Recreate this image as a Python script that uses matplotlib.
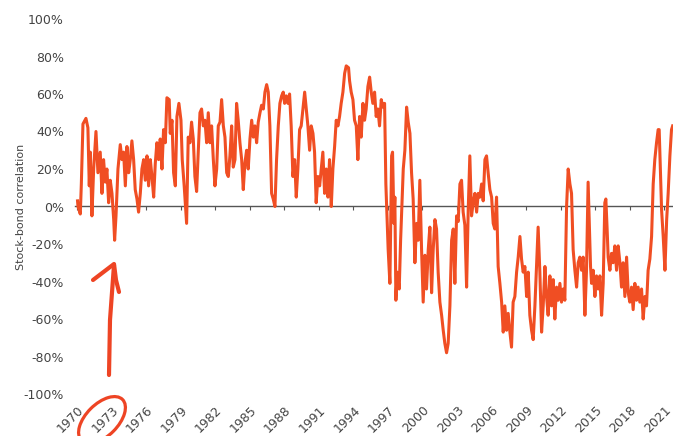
import matplotlib
matplotlib.use("Agg")
import matplotlib.pyplot as plt
from matplotlib.lines import Line2D
from matplotlib.patches import Ellipse
from matplotlib.transforms import IdentityTransform

# rolling stock-bond correlation (%)
years = [
    1970.05, 1970.09, 1970.29, 1970.38, 1970.52, 1970.78, 1970.95, 1971.07, 1971.16, 1971.30,
    1971.45, 1971.65, 1971.82, 1972.02, 1972.17, 1972.31, 1972.46, 1972.60, 1972.75, 1972.89,
    1973.04, 1973.19, 1973.27, 1973.39, 1973.56, 1973.76, 1973.91, 1974.05, 1974.20, 1974.34,
    1974.49, 1974.63, 1974.77, 1974.92, 1975.06, 1975.21, 1975.35, 1975.50, 1975.64, 1975.79,
    1975.93, 1976.08, 1976.22, 1976.37, 1976.51, 1976.66, 1976.80, 1976.94, 1977.09, 1977.23,
    1977.38, 1977.52, 1977.67, 1977.81, 1978.01, 1978.10, 1978.25, 1978.39, 1978.54, 1978.68,
    1978.85, 1979.03, 1979.14, 1979.31, 1979.52, 1979.66, 1979.81, 1979.95, 1980.10, 1980.24,
    1980.39, 1980.53, 1980.68, 1980.82, 1980.97, 1981.11, 1981.26, 1981.40, 1981.55, 1981.69,
    1981.84, 1981.98, 1982.13, 1982.27, 1982.42, 1982.56, 1982.71, 1982.85, 1983.00, 1983.14,
    1983.28, 1983.43, 1983.57, 1983.72, 1983.86, 1984.00, 1984.15, 1984.30, 1984.44, 1984.58,
    1984.73, 1984.87, 1985.02, 1985.17, 1985.31, 1985.45, 1985.60, 1985.74, 1985.89, 1986.03,
    1986.18, 1986.32, 1986.47, 1986.61, 1986.75, 1986.90, 1987.04, 1987.19, 1987.33, 1987.48,
    1987.62, 1987.77, 1987.91, 1988.03, 1988.17, 1988.32, 1988.46, 1988.60, 1988.75, 1988.90,
    1989.04, 1989.18, 1989.33, 1989.47, 1989.62, 1989.77, 1989.91, 1990.05, 1990.20, 1990.34,
    1990.49, 1990.63, 1990.77, 1990.92, 1991.07, 1991.21, 1991.35, 1991.50, 1991.64, 1991.79,
    1991.93, 1992.08, 1992.22, 1992.37, 1992.51, 1992.66, 1992.80, 1992.94, 1993.09, 1993.24,
    1993.38, 1993.58, 1993.67, 1993.81, 1993.96, 1994.10, 1994.25, 1994.39, 1994.54, 1994.68,
    1994.83, 1994.97, 1995.11, 1995.26, 1995.41, 1995.55, 1995.69, 1995.84, 1995.98, 1996.13,
    1996.27, 1996.42, 1996.56, 1996.71, 1996.82, 1997.02, 1997.17, 1997.32, 1997.40, 1997.52,
    1997.60, 1997.69, 1997.80, 1997.98, 1998.10, 1998.21, 1998.33, 1998.47, 1998.62, 1998.76,
    1998.91, 1999.05, 1999.19, 1999.34, 1999.49, 1999.63, 1999.77, 1999.92, 2000.06, 2000.21,
    2000.35, 2000.50, 2000.64, 2000.79, 2000.93, 2001.08, 2001.22, 2001.36, 2001.51, 2001.66,
    2001.80, 2001.94, 2002.09, 2002.23, 2002.38, 2002.53, 2002.67, 2002.81, 2002.96, 2003.10,
    2003.25, 2003.39, 2003.53, 2003.68, 2003.83, 2003.97, 2004.11, 2004.26, 2004.40, 2004.55,
    2004.70, 2004.84, 2004.98, 2005.13, 2005.27, 2005.42, 2005.56, 2005.70, 2005.85, 2006.00,
    2006.14, 2006.28, 2006.43, 2006.57, 2006.72, 2006.87, 2007.01, 2007.15, 2007.30, 2007.44,
    2007.59, 2007.73, 2007.87, 2008.02, 2008.17, 2008.31, 2008.46, 2008.60, 2008.74, 2008.89,
    2009.04, 2009.18, 2009.32, 2009.47, 2009.61, 2009.76, 2009.90, 2010.04, 2010.19, 2010.34,
    2010.48, 2010.63, 2010.77, 2010.91, 2011.06, 2011.20, 2011.35, 2011.49, 2011.64, 2011.78,
    2011.93, 2012.07, 2012.21, 2012.36, 2012.51, 2012.65, 2012.80, 2012.94, 2013.08, 2013.23,
    2013.38, 2013.52, 2013.66, 2013.81, 2013.95, 2014.10, 2014.24, 2014.38, 2014.47, 2014.59,
    2014.68, 2014.82, 2014.97, 2015.11, 2015.25, 2015.40, 2015.55, 2015.69, 2015.83, 2015.92,
    2016.03, 2016.12, 2016.27, 2016.41, 2016.55, 2016.70, 2016.85, 2016.99, 2017.14, 2017.28,
    2017.42, 2017.57, 2017.72, 2017.86, 2018.00, 2018.15, 2018.29, 2018.44, 2018.58, 2018.72,
    2018.87, 2019.02, 2019.16, 2019.31, 2019.45, 2019.59, 2019.74, 2019.89, 2020.03, 2020.17,
    2020.32, 2020.46, 2020.55, 2020.67, 2020.76, 2020.90, 2021.05, 2021.20, 2021.33, 2021.48,
    2021.62, 2021.72,
]
corr = [
    3, 0, -4, 12, 44, 47, 42, 11, 29, -5,
    20, 40, 18, 29, 7, 25, 13, 20, 2, 14,
    7, -7, -18, -5, 20, 33, 25, 29, 11, 32,
    18, 25, 35, 25, 9, 4, -3, 7, 20, 25,
    14, 27, 11, 25, 16, 5, 23, 34, 25, 36,
    20, 41, 34, 58, 57, 39, 46, 18, 11, 48,
    55, 46, 25, 11, -9, 37, 34, 45, 36, 16,
    8, 29, 50, 52, 43, 46, 34, 50, 34, 43,
    25, 11, 20, 43, 45, 57, 43, 37, 18, 16,
    27, 43, 21, 25, 55, 46, 34, 25, 9, 23,
    30, 20, 36, 46, 37, 43, 34, 45, 50, 54,
    52, 61, 65, 61, 43, 7, 4, 0, 25, 43,
    55, 59, 61, 55, 59, 55, 60, 43, 16, 25,
    5, 20, 41, 43, 52, 61, 52, 43, 30, 43,
    39, 29, 2, 16, 11, 20, 29, 7, 20, 5,
    25, 0, 20, 32, 46, 43, 48, 55, 61, 71,
    75, 74, 67, 61, 57, 46, 43, 25, 48, 37,
    55, 46, 52, 64, 69, 61, 55, 61, 48, 52,
    43, 57, 53, 55, 12, -23, -41, 27, 29, -9,
    5, -50, -35, -44, -18, 0, 20, 30, 53, 45,
    39, 18, 4, -30, -9, -18, 14, -23, -51, -26,
    -44, -23, -11, -46, -23, -7, -12, -35, -51, -58,
    -66, -73, -78, -73, -53, -18, -12, -41, -5, -8,
    12, 14, -3, -10, -43, -2, 27, -5, 2, 7,
    -3, 7, 5, 12, 3, 25, 27, 18, 9, 5,
    -9, -12, 5, -32, -41, -51, -67, -53, -66, -57,
    -67, -75, -51, -48, -35, -27, -16, -28, -35, -32,
    -48, -35, -58, -66, -71, -53, -32, -11, -35, -67,
    -53, -32, -48, -58, -37, -53, -39, -60, -43, -50,
    -41, -51, -44, -50, 0, 20, 12, 7, -23, -34,
    -43, -30, -27, -34, -27, -58, -34, 13, -7, -32,
    -41, -34, -48, -37, -44, -37, -58, -41, 2, 4,
    -12, -27, -34, -25, -30, -21, -34, -21, -30, -43,
    -30, -48, -27, -46, -51, -43, -55, -41, -50, -43,
    -51, -44, -60, -48, -53, -34, -28, -16, 12, 25,
    34, 41, 41, 16, -2, -16, -34, -7, 7, 27,
    41, 43,
]

tick_years = list(range(1970, 2022, 3))
y_ticks = list(range(-100, 101, 20))

LINE = "#F04E23"
MARK = "#EE4424"
TEXT = "#444444"
AXIS = "#555555"

W, H = 673, 436
fig = plt.figure(figsize=(W / 100, H / 100), dpi=100)
ax = fig.add_axes([75 / W, 42 / H, 598 / W, 375 / H])

ax.plot(years, corr, color=LINE, lw=2.2, zorder=3)

ax.set_xlim(1969.83, 2021.75)
ax.set_ylim(-100, 100)

ax.set_yticks(y_ticks)
ax.set_yticklabels([f"{v}%" for v in y_ticks])
ax.tick_params(axis="y", length=0, pad=8, labelsize=9, labelcolor=TEXT)

for s in ["top", "right", "left"]:
    ax.spines[s].set_visible(False)
ax.spines["bottom"].set_position(("data", 0))
ax.spines["bottom"].set_color(AXIS)
ax.spines["bottom"].set_linewidth(1)
ax.set_xticks(tick_years)
ax.tick_params(axis="x", direction="out", length=3, color=AXIS, labelbottom=False)

# year labels sit at the bottom of the plot, not on the zero line
sec = ax.secondary_xaxis("bottom")
sec.set_xticks(tick_years)
sec.set_xticklabels([str(y) for y in tick_years], rotation=45, ha="right",
                    va="top", rotation_mode="anchor")
sec.tick_params(length=0, pad=7, labelsize=9, labelcolor=TEXT)
sec.spines["bottom"].set_visible(False)

ax.set_ylabel("Stock-bond correlation", fontsize=8, color=TEXT)
ax.yaxis.set_label_coords(-0.082, 0.5)

# hand-drawn arrow and circle around 1973
def px(x, y):
    return x, H - y

ident = IdentityTransform()
for seg in [[(109, 375), (110, 320), (114, 265)],
            [(93, 280), (114, 264), (116, 280), (119, 292)]]:
    xs = [px(*p)[0] for p in seg]
    ys = [px(*p)[1] for p in seg]
    fig.add_artist(Line2D(xs, ys, color=MARK, lw=3.0, solid_capstyle="round",
                          solid_joinstyle="round", transform=ident))
fig.add_artist(Ellipse(px(102, 420), 58, 32, angle=45, fill=False, edgecolor=MARK,
                       lw=2.3, transform=ident))

fig.savefig("out.png", dpi=100)
plt.close(fig)
